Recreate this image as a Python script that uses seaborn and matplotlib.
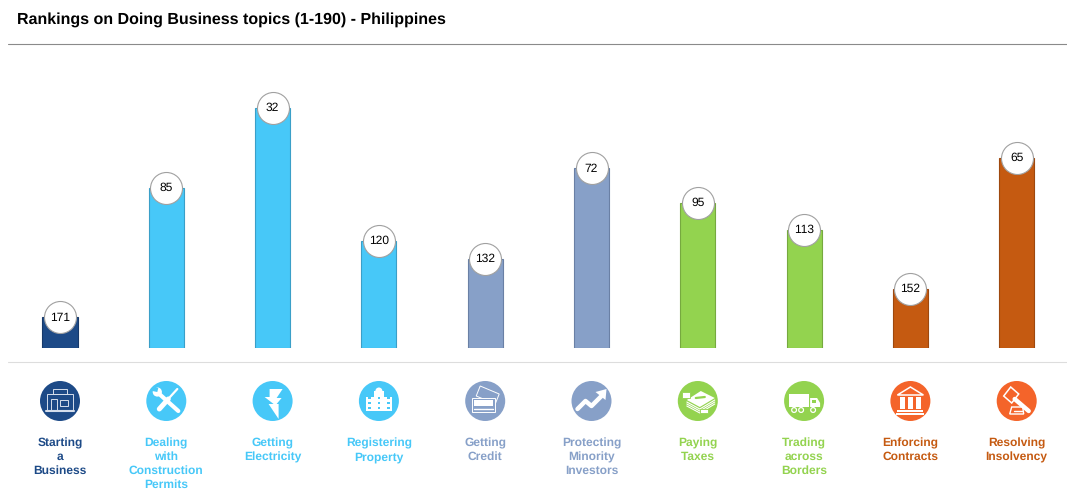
import matplotlib
matplotlib.use("Agg")
import matplotlib.pyplot as plt
import seaborn as sns
import pandas as pd
from matplotlib.patches import Circle, Rectangle, Polygon
from matplotlib.lines import Line2D

topics = ["Starting\na\nBusiness", "Dealing\nwith\nConstruction\nPermits", "Getting\nElectricity",
          "Registering\nProperty", "Getting\nCredit", "Protecting\nMinority\nInvestors",
          "Paying\nTaxes", "Trading\nacross\nBorders", "Enforcing\nContracts", "Resolving\nInsolvency"]
ranks = [171, 85, 32, 120, 132, 72, 95, 113, 152, 65]
bar_colors = ["#1D4A87", "#47C8F8", "#47C8F8", "#47C8F8", "#87A0C8", "#87A0C8",
              "#93D34F", "#93D34F", "#C55A11", "#C55A11"]
edge_colors = ["#17396A", "#3A9FC8", "#3A9FC8", "#3A9FC8", "#6A80A5", "#6A80A5",
               "#76A93F", "#76A93F", "#9E480E", "#9E480E"]
icon_colors = ["#1D4A87", "#47C8F8", "#47C8F8", "#47C8F8", "#87A0C8", "#87A0C8",
               "#93D34F", "#93D34F", "#F4642A", "#F4642A"]
title = "Rankings on Doing Business topics (1-190) - Philippines"
worst_rank = 191

sns.set_theme(style="white")
plt.rcParams["font.family"] = ["Liberation Sans", "DejaVu Sans"]
plt.rcParams["text.hinting"] = "no_hinting"
plt.rcParams["text.hinting_factor"] = 1

W, H = 1067, 500
fig = plt.figure(figsize=(W / 100, H / 100), dpi=100, facecolor="white")

# Plot area in pixels
L, R, T, B = 8, 1067, 44, 347.5
ax = fig.add_axes([L / W, 1 - B / H, (R - L) / W, (B - T) / H])
df = pd.DataFrame({"topic": topics, "rank": ranks})
df["height"] = worst_rank - df["rank"]
sns.barplot(data=df, x="topic", y="height", hue="topic", palette=bar_colors, legend=False,
            width=0.33, saturation=1, ax=ax, zorder=2)
for patch, ec in zip(ax.patches, edge_colors):
    patch.set_edgecolor(ec)
    patch.set_linewidth(0.8)

unit = 106.3
ax.set_xlim((L - 60) / unit, (R - 60) / unit)
ax.set_ylim(0, (B - T) / 1.505)
ax.axis("off")

sns.scatterplot(data=df, x="topic", y="height", s=(32 * 0.72) ** 2, color="white",
                edgecolor="#A0A0A0", linewidth=0.8, ax=ax, zorder=3, legend=False, clip_on=False)
for i, (h, r) in enumerate(zip(df["height"], ranks)):
    ax.text(i, h, str(r), ha="center", va="center", fontsize=8.6, color="black", zorder=4)

ov = fig.add_axes([0, 0, 1, 1], facecolor="none")
ov.set_xlim(0, W)
ov.set_ylim(H, 0)
ov.axis("off")
ov.text(17, 19.5, title, fontsize=11.47, fontweight="bold", color="black", ha="left", va="center")
ov.add_line(Line2D([8, 1067], [44.2, 44.2], color="#8A8A8A", lw=0.8))
ov.add_line(Line2D([8, 1067], [362.3, 362.3], color="#DDDDDD", lw=0.8))


def rect(cx, cy, x, y, w, h, fc="white", ec="none", lw=0.7):
    ov.add_patch(Rectangle((cx + x, cy + y), w, h, fc=fc, ec=ec, lw=lw, zorder=6))


def poly(cx, cy, pts, fc="white", ec="none", lw=0.7):
    ov.add_patch(Polygon([(cx + a, cy + b) for a, b in pts], closed=True, fc=fc, ec=ec, lw=lw, zorder=6))


def line(cx, cy, xs, ys, lw=1.0, c="white"):
    ov.add_line(Line2D([cx + a for a in xs], [cy + b for b in ys], color=c, lw=lw, zorder=6,
                       solid_capstyle="round"))


def shop(cx, cy, c):
    rect(cx, cy, -7, -12, 14, 5, fc="none", ec="#D5DEEC")
    rect(cx, cy, -13, -7, 26, 16, fc="none", ec="#D5DEEC")
    rect(cx, cy, -9, -2, 6, 11, fc="none", ec="#D5DEEC")
    rect(cx, cy, 0, -1, 8, 6, fc="none", ec="#D5DEEC")
    line(cx, cy, [-14, 14], [10, 10], lw=1.5, c="#D5DEEC")


def tools(cx, cy, c):
    line(cx, cy, [-7, 12], [-7, 10], lw=3.0)
    ov.add_patch(Circle((cx - 9, cy - 9), 4.6, fc="white", ec="none", zorder=6))
    poly(cx, cy, [(-13, -15), (-8, -13), (-9, -9), (-14, -10)], fc=c)
    line(cx, cy, [11, 1], [-12, -1], lw=1.6)
    line(cx, cy, [2, -7], [-2, 8], lw=3.6)


def bolt(cx, cy, c):
    poly(cx, cy, [(-3, -12), (10, -12), (4, -3), (9, -3), (4, 3), (6, 3), (6, 18), (-4, 3),
                  (1, 3), (-8, -4), (-3, -4)])


def building(cx, cy, c):
    rect(cx, cy, -5, -10, 10, 20)
    rect(cx, cy, -13, -4, 26, 14)
    ov.add_patch(Circle((cx, cy - 10), 3.5, fc="white", ec="none", zorder=6))
    for dx in (-9.5, 0, 9.5):
        for dy in (-3, 2, 7):
            rect(cx, cy, dx - 1.3, dy - 1, 2.6, 2, fc=c)


def card(cx, cy, c):
    poly(cx, cy, [(-5, -15), (14, -7), (10, 3), (-9, -5)], fc="none", ec="white")
    rect(cx, cy, -13, -3, 23, 14, fc=c, ec="white")
    rect(cx, cy, -11, -1, 19, 5.5)
    line(cx, cy, [-11, 8], [8, 8], lw=1.0)


def arrow(cx, cy, c):
    line(cx, cy, [-14, -6, 0, 11], [8, 0, 5, -6], lw=3.2)
    poly(cx, cy, [(4, -9), (15, -12), (14, -1)])


def money(cx, cy, c):
    poly(cx, cy, [(-11, -1), (3, -10), (17, -3), (2, 6)])
    for d in (2, 4, 6):
        line(cx, cy, [-11, 2, 17], [-1 + d, 6 + d, -3 + d], lw=0.8)
    line(cx, cy, [-2, 7], [-3, -4], lw=1.6, c=c)
    ov.add_patch(Rectangle((cx - 16, cy - 9), 8, 6, fc="white", ec=c, lw=0.6, zorder=6))
    ov.add_patch(Rectangle((cx + 2, cy + 8), 8, 4, fc="white", ec=c, lw=0.6, zorder=6))


def truck(cx, cy, c):
    rect(cx, cy, -15, -7, 20, 13)
    poly(cx, cy, [(6, -3), (13, -3), (16, 2), (16, 6), (6, 6)])
    rect(cx, cy, 8, -1, 4, 2.5, fc=c)
    for dx in (-10, -3, 9):
        ov.add_patch(Circle((cx + dx, cy + 9), 2.4, fc=c, ec="white", lw=0.9, zorder=7))


def bank(cx, cy, c):
    poly(cx, cy, [(0, -14), (13, -6), (-13, -6)], fc="none", ec="white", lw=1.1)
    for dx in (-8, 0, 8):
        rect(cx, cy, dx - 2.5, -4, 5, 12)
    rect(cx, cy, -13, 9, 26, 1.5)
    rect(cx, cy, -14, 12, 28, 1.5)


def gavel(cx, cy, c):
    poly(cx, cy, [(-6, -14), (2, -7), (-5, 2), (-13, -5)], fc="none", ec="white", lw=1.1)
    line(cx, cy, [-2, 12], [-2, 10], lw=3.2)
    poly(cx, cy, [(-5, 6), (6, 6), (7, 13), (-7, 13)], fc="none", ec="white", lw=1.0)
    line(cx, cy, [-3, 5], [9.5, 9.5], lw=1.0)


icons = [shop, tools, bolt, building, card, arrow, money, truck, bank, gavel]
icon_y = 401
for i, (label, col, tc, draw) in enumerate(zip(topics, icon_colors, bar_colors, icons)):
    cx = 60 + unit * i
    ov.add_patch(Circle((cx, icon_y), 20, fc=col, ec="none", zorder=5))
    draw(cx, icon_y, col)
    for j, part in enumerate(label.split("\n")):
        ov.text(cx, 443 + 14 * j, part, fontsize=8.65, fontweight="bold", color=tc,
                ha="center", va="center")

fig.savefig("out.png", dpi=100)
